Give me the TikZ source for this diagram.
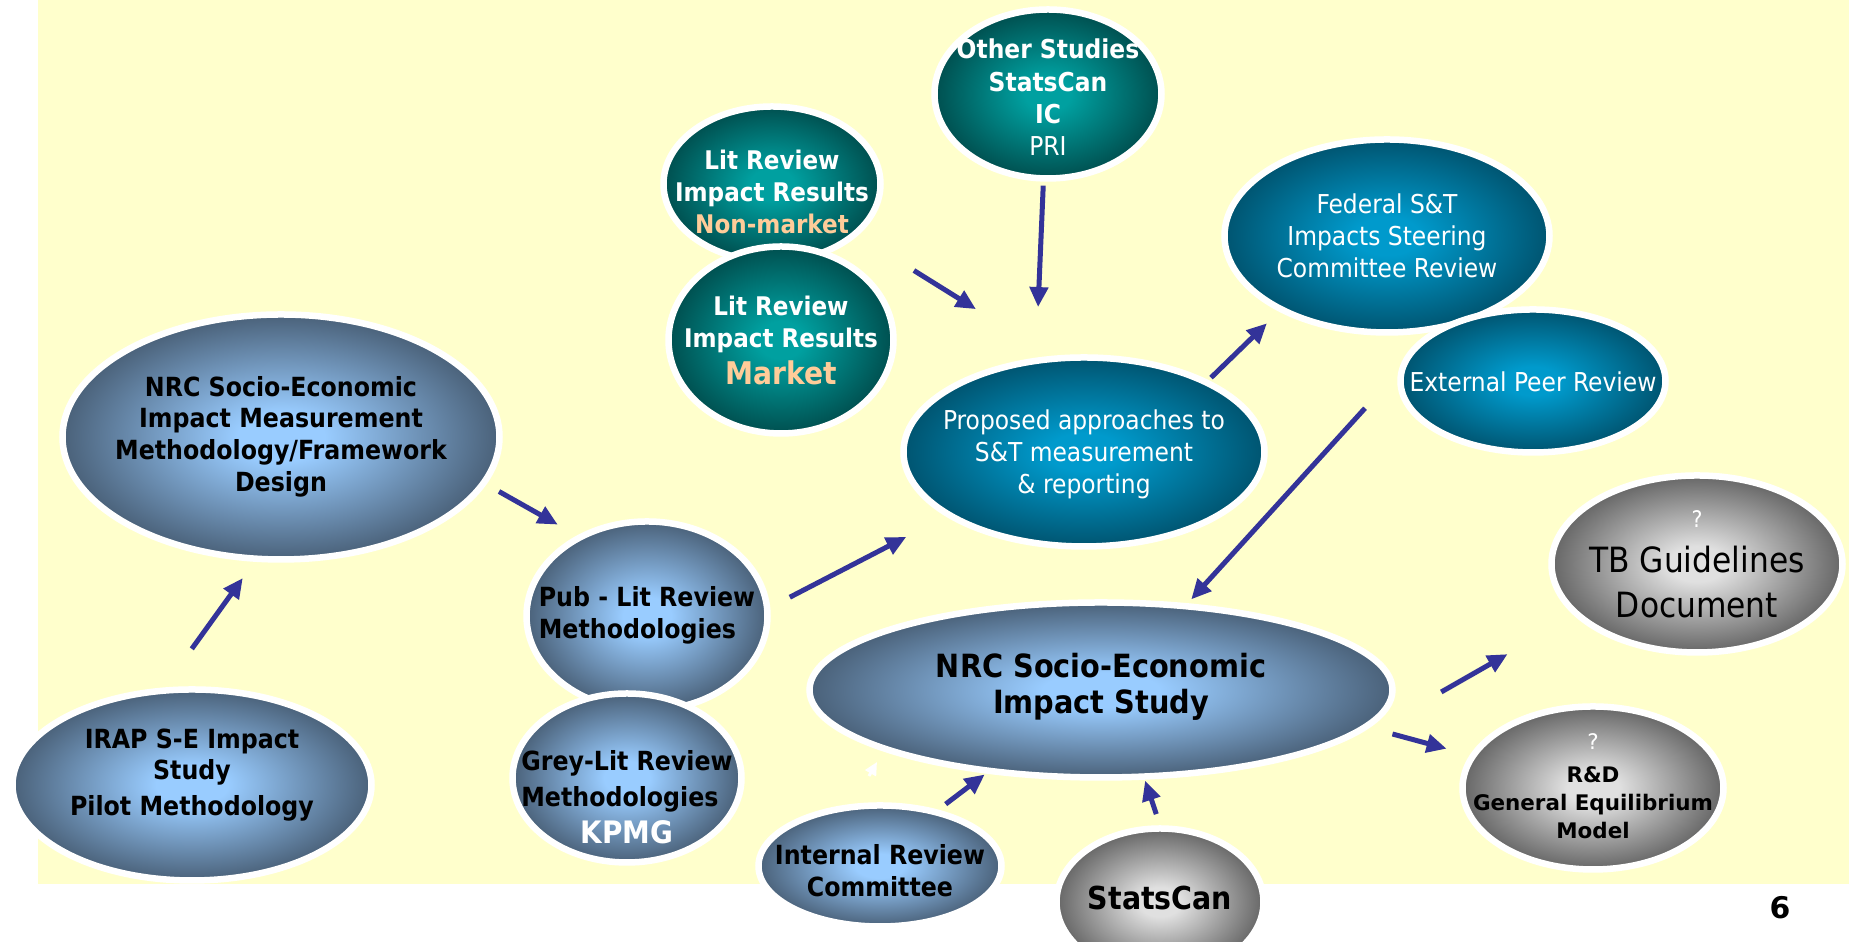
\documentclass[tikz,border=0pt]{standalone}
\usepackage{fontspec}
\setmainfont{DejaVu Sans Condensed}
\newfontfamily\widesans{DejaVu Sans}
\usetikzlibrary{shapes.geometric,arrows.meta}

\definecolor{paper}{HTML}{FFFFCC}
\definecolor{slatein}{HTML}{99CCFF}
\definecolor{slateout}{HTML}{4A6179}
\definecolor{tealin}{HTML}{00A0A0}
\definecolor{tealout}{HTML}{004F4F}
\definecolor{oceanin}{HTML}{009ACC}
\definecolor{oceanout}{HTML}{005470}
\definecolor{silverin}{HTML}{E0E0E0}
\definecolor{silverout}{HTML}{666666}
\definecolor{arrowblue}{HTML}{333399}
\definecolor{peach}{HTML}{FFCC99}

% light core, dark rim
\pgfdeclareradialshading{slateglow}{\pgfpointorigin}{color(0bp)=(slatein); color(5bp)=(slatein); color(25bp)=(slateout); color(50bp)=(slateout)}
\pgfdeclareradialshading{tealglow}{\pgfpointorigin}{color(0bp)=(tealin); color(5bp)=(tealin); color(25bp)=(tealout); color(50bp)=(tealout)}
\pgfdeclareradialshading{oceanglow}{\pgfpointorigin}{color(0bp)=(oceanin); color(5bp)=(oceanin); color(25bp)=(oceanout); color(50bp)=(oceanout)}
\pgfdeclareradialshading{silverglow}{\pgfpointorigin}{color(0bp)=(silverin); color(5bp)=(silverin); color(25bp)=(silverout); color(50bp)=(silverout)}

% lines of a bubble, kept out of the shape size
\newcommand{\bubbletext}[3][c]{\makebox[0pt]{\smash{\raisebox{#2}{\raisebox{-0.25em}{\begin{tabular}{@{}#1@{}}#3\end{tabular}}}}}}

\tikzset{
    bubble/.style={ellipse, draw=white, line width=0.065cm, inner sep=0pt},
    slateball/.style={bubble, shading=slateglow,
        font=\bfseries\fontsize{7.5}{9}\selectfont},
    tealball/.style={bubble, shading=tealglow, text=white,
        font=\bfseries\fontsize{7.3}{9.1}\selectfont},
    oceanball/.style={bubble, shading=oceanglow, text=white,
        font=\fontsize{7.4}{9.1}\selectfont},
    silverball/.style={bubble, shading=silverglow},
    dims/.style 2 args={minimum width=#1cm, minimum height=#2cm},
    link/.style={draw=arrowblue, line width=0.05cm, -{Triangle[length=0.2cm,width=0.18cm]}}
}

\begin{document}
\begin{tikzpicture}
                \useasboundingbox (0,0) rectangle (18.49,9.42);
                \fill[paper] (0.38,0.58) rectangle (18.49,9.42);

                \node[slateball, dims={4.37}{2.45}] (frame) at (2.81,5.05)
                    {\bubbletext{0pt}{NRC Socio-Economic\\Impact Measurement\\Methodology/Framework\\Design}};
                \node[slateball, dims={3.59}{1.91}] (irap) at (1.92,1.57)
                    {\bubbletext{0.10cm}{IRAP S-E Impact\\Study\\[1pt]Pilot Methodology}};
                \node[slateball, dims={2.41}{1.89}] (pub) at (6.47,3.26)
                    {\bubbletext[l]{0pt}{Pub - Lit Review\\Methodologies}};
                \node[slateball, dims={2.29}{1.69}, font=\bfseries\fontsize{7.5}{10.4}\selectfont] (grey) at (6.27,1.64)
                    {\bubbletext[l]{-0.21cm}{Grey-Lit Review\\Methodologies\\
                    \multicolumn{1}{@{}c@{}}{\color{white}\fontsize{8.8}{10.4}\selectfont KPMG}}};

                \node[tealball, dims={2.17}{1.55}] (nonmkt) at (7.72,7.58)
                    {\bubbletext{-0.11cm}{Lit Review\\Impact Results\\\color{peach}Non-market}};
                \node[tealball, dims={2.25}{1.87}] (mkt) at (7.81,6.02)
                    {\bubbletext{-0.03cm}{Lit Review\\Impact Results\\[1pt]\color{peach}\fontsize{8.9}{10}\selectfont Market}};
                \node[tealball, dims={2.27}{1.69}, font=\bfseries\fontsize{7.4}{9.2}\selectfont] (other) at (10.48,8.48)
                    {\bubbletext{-0.065cm}{Other Studies\\StatsCan\\IC\\\mdseries PRI}};

                \node[oceanball, dims={3.61}{1.89}] (proposed) at (10.84,4.90)
                    {\bubbletext{-0.025cm}{Proposed approaches to\\S\&T measurement\\\& reporting}};
                \node[oceanball, dims={3.25}{1.93}] (federal) at (13.87,7.06)
                    {\bubbletext{-0.025cm}{Federal S\&T\\Impacts Steering\\Committee Review}};
                \node[oceanball, dims={2.65}{1.43}] (peer) at (15.33,5.61)
                    {\bubbletext{-0.035cm}{External Peer Review}};

                \node[silverball, dims={2.91}{1.77}, font=\fontsize{9.9}{12.8}\selectfont] (tb) at (16.97,3.78)
                    {\bubbletext{0pt}{\color{white}\fontsize{6.5}{8}\selectfont ?\\TB Guidelines\\Document}};
                \node[silverball, dims={2.61}{1.63}, font=\widesans\bfseries\fontsize{6.1}{8}\selectfont] (rd) at (15.93,1.54)
                    {\bubbletext{0pt}{\mdseries\color{white}?\\[1.4pt]R\&D\\General Equilibrium\\Model}};

                \node[slateball, dims={5.83}{1.75}, font=\bfseries\fontsize{9.1}{10.4}\selectfont] (study) at (11.01,2.52)
                    {\bubbletext{0.02cm}{NRC Socio-Economic\\Impact Study}};
                \node[slateball, dims={2.43}{1.21}] (internal) at (8.80,0.76)
                    {\bubbletext{-0.08cm}{Internal Review\\Committee}};
                \node[silverball, dims={2.07}{1.47}, font=\bfseries\fontsize{9}{11}\selectfont] (stats) at (11.60,0.40)
                    {\bubbletext{0pt}{StatsCan}};

                \node[font=\widesans\bfseries\fontsize{8.5}{10}\selectfont] (pagenum) at (17.80,0.34) {6};

                \draw[link, shorten <=0.475cm, shorten >=0.20cm] (irap.106.5) -- (frame.258.6);
                \draw[link, shorten <=0.145cm, shorten >=0.22cm] (frame.-13.5) -- (pub.131.3);
                \draw[link, shorten <=0.22cm, shorten >=0.446cm] (pub.4.1) -- (proposed.205);
                \draw[link, shorten <=0.66cm, shorten >=0.883cm] (nonmkt.-31.2) -- (proposed.109.6);
                \draw[link, shorten <=0.04cm, shorten >=0.506cm] (other.267.5) -- (proposed.117.2);
                \draw[link, shorten <=0.035cm, shorten >=0.168cm] (proposed.30.3) -- (federal.215.7);
                \draw[link, shorten <=0.495cm, shorten >=0.052cm] (peer.176.9) -- (study.45.8);
                \draw[link, shorten >=0.77cm] ([shift={(0.455,-0.02)}]study.east) -- (tb.203.1);
                \draw[link, shorten <=0.242cm, shorten >=0.24cm] (study.-8.3) -- (rd.165);
                \draw[link, shorten <=0.092cm, shorten >=0.016cm] (internal.44.1) -- (study.216.5);
                \draw[link, shorten <=0.117cm, shorten >=0.01cm] (stats.90) -- (study.-64.7);

                \coordinate (stubA) at (8.69,1.66);
                \coordinate (stubB) at (8.77,1.80);
                \draw[white, line width=0.03cm, -{Triangle[length=0.13cm,width=0.12cm]}] (stubA) -- (stubB);
\end{tikzpicture}
\end{document}
